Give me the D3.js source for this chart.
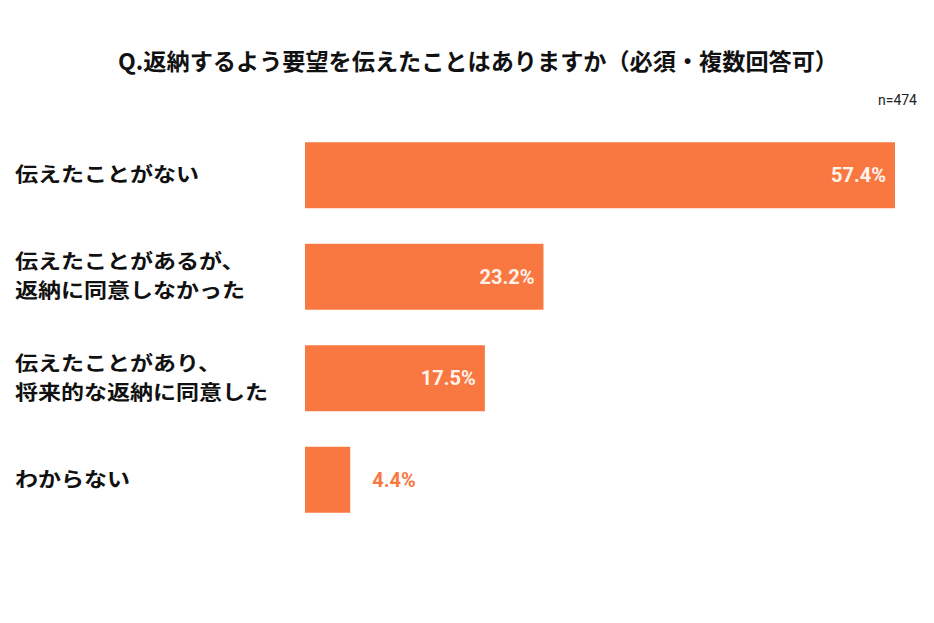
<!DOCTYPE html>
<html><head><meta charset="utf-8">
<script src="https://cdn.jsdelivr.net/npm/d3@7"></script>
<style>body{margin:0;background:#fff;}svg{display:block;}</style>
</head><body>
<svg id="c" width="934" height="623"></svg>
<script>
const categories = [
  ["伝えたことがない"],
  ["伝えたことがあるが、", "返納に同意しなかった"],
  ["伝えたことがあり、", "将来的な返納に同意した"],
  ["わからない"]
];
const values = [57.4, 23.2, 17.5, 4.4];
const title = "Q.返納するよう要望を伝えたことはありますか（必須・複数回答可）";
const sampleNote = "n=474";

const svg = d3.select("#c");
const W = 934, H = 623;
const jp = "'Noto Sans CJK JP', 'Noto Sans', sans-serif";
const num = "Roboto, 'Liberation Sans', Arial, sans-serif";
const barColor = "#F97841";

svg.append("rect").attr("width", W).attr("height", H).attr("fill", "#fff");

svg.append("text").attr("x", 478).attr("y", 70).attr("text-anchor", "middle")
  .attr("font-family", jp).attr("font-weight", 700).attr("font-size", 23)
  .attr("textLength", 720).attr("lengthAdjust", "spacingAndGlyphs")
  .attr("fill", "#111").text(title);

svg.append("text").attr("x", 917).attr("y", 105).attr("text-anchor", "end")
  .attr("font-family", num).attr("font-size", 14).attr("fill", "#222").text(sampleNote);

const x = d3.scaleLinear().domain([0, 57.4]).range([305, 895]);
const y = d3.scaleBand().domain(d3.range(values.length)).range([125, 530]).paddingInner(0.35).paddingOuter(0.17);

const g = svg.append("g");
g.selectAll("rect.bar").data(values).join("rect").attr("class", "bar")
  .attr("x", x(0)).attr("y", (d, i) => y(i)).attr("width", d => x(d) - x(0))
  .attr("height", y.bandwidth()).attr("fill", barColor);

// category labels
categories.forEach((lines, i) => {
  const cy = y(i) + y.bandwidth() / 2;
  const lh = 29;
  const lg = g.append("g").attr("transform", `translate(15,${cy}) scale(1.15,1)`);
  lines.forEach((ln, k) => {
    lg.append("text").attr("font-family", jp).attr("font-weight", 700)
      .attr("font-size", 20).attr("fill", "#111")
      .attr("x", 0).attr("y", (k - (lines.length - 1) / 2) * lh)
      .attr("dy", "0.35em").text(ln);
  });
});

// value labels
values.forEach((v, i) => {
  const cy = y(i) + y.bandwidth() / 2;
  const inside = (x(v) - x(0)) > 80;
  g.append("text")
    .attr("x", inside ? x(v) - 9 : x(v) + 22)
    .attr("y", cy).attr("dy", "0.36em")
    .attr("text-anchor", inside ? "end" : "start")
    .attr("font-family", num).attr("font-weight", 700).attr("font-size", 20)
    .attr("fill", inside ? "#FFF3EC" : barColor)
    .text(v.toFixed(1) + "%");
});
</script>
</body></html>
